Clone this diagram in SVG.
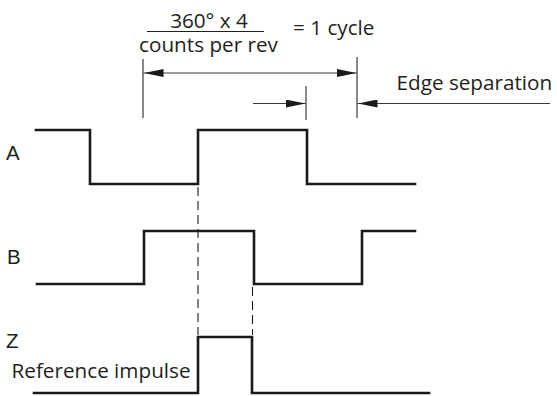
<svg xmlns="http://www.w3.org/2000/svg" width="557" height="396" viewBox="0 0 557 396">
<style>
.t{font-family:"Open Sans","Noto Sans",sans-serif;font-size:20.7px;fill:#231f20}
.l{font-family:"Liberation Sans",Arial,sans-serif;font-size:20.5px;fill:#231f20}
.dim{stroke:#3a3a3a;stroke-width:1.2;fill:none}
.sig{stroke:#1a1a1a;stroke-width:2.6;fill:none;stroke-linejoin:miter;stroke-linecap:square}
.dash{stroke:#1a1a1a;stroke-width:1.1;fill:none;stroke-dasharray:9,5}
</style>
<defs>
<marker id="ah" viewBox="0 0 20 8" refX="20" refY="4" markerWidth="20" markerHeight="8" markerUnits="userSpaceOnUse" orient="auto-start-reverse">
<path d="M0,0 L20,4 L0,8 Z" fill="#1a1a1a"/>
</marker>
</defs>
<rect width="557" height="396" fill="#ffffff"/>
<g id="formula">
<text class="t" x="209" y="28" text-anchor="middle">360° x 4</text>
<line x1="147" y1="31.5" x2="264" y2="31.5" stroke="#231f20" stroke-width="1.2"/>
<text class="t" x="208.5" y="51.5" text-anchor="middle">counts per rev</text>
<text class="t" x="293" y="35">= 1 cycle</text>
</g>
<g id="edge-label">
<text class="t" x="396.5" y="90">Edge separation</text>
</g>
<g id="connectors">
<line class="dim" x1="143" y1="59" x2="143" y2="118"/>
<line class="dim" x1="357" y1="57" x2="357" y2="118"/>
<line class="dim" x1="306" y1="86" x2="306" y2="120"/>
<line class="dim" x1="143.5" y1="73" x2="356.5" y2="73" marker-start="url(#ah)" marker-end="url(#ah)"/>
<line class="dim" x1="253" y1="103.5" x2="305.5" y2="103.5" marker-end="url(#ah)"/>
<line class="dim" x1="550" y1="103.5" x2="357.5" y2="103.5" marker-end="url(#ah)"/>
<line class="dash" x1="198" y1="187" x2="198" y2="335"/>
<line class="dash" x1="252.5" y1="287" x2="252.5" y2="335"/>
</g>
<g id="signal-A">
<text class="l" x="6" y="160">A</text>
<path class="sig" d="M36,130 H90 V184 H198 V130 H307 V184 H415"/>
</g>
<g id="signal-B">
<text class="l" x="7" y="264">B</text>
<path class="sig" d="M37,284 H144 V231 H254 V284 H362 V231 H415"/>
</g>
<g id="signal-Z">
<text class="l" x="6" y="348">Z</text>
<text class="t" x="11.5" y="378">Reference impulse</text>
<path class="sig" d="M34,393 H198 V337 H252 V393 H429"/>
</g>
</svg>
